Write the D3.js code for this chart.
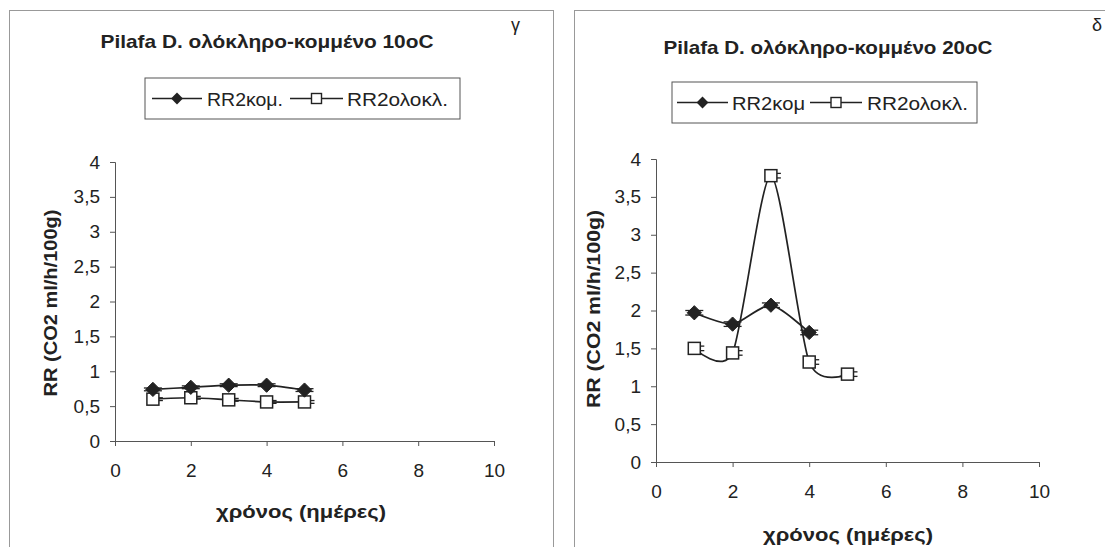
<!DOCTYPE html>
<html>
<head>
<meta charset="utf-8">
<script src="https://cdn.jsdelivr.net/npm/d3@7"></script>
<style>
  body { margin: 0; background: #fff; }
  text { font-family: "Liberation Sans", Arial, sans-serif; fill: #222; }
</style>
</head>
<body>
<div id="chart"></div>
<script>
// data
var days = [1, 2, 3, 4, 5];
var xTicks = [0, 2, 4, 6, 8, 10];
var yTicks = [0, 0.5, 1, 1.5, 2, 2.5, 3, 3.5, 4];

// 10oC panel
var kom10 = [0.74, 0.77, 0.80, 0.80, 0.73];
var olo10 = [0.60, 0.62, 0.59, 0.56, 0.56];
var err10 = [0.02, 0.02, 0.02, 0.02, 0.02];
// 20oC panel (κομ has no day 5)
var kom20 = [1.97, 1.82, 2.07, 1.71];
var olo20 = [1.50, 1.44, 3.78, 1.32, 1.16];
var err20 = [0.03, 0.03, 0.03, 0.03, 0.03];

var svgWidth = 1105;
var svgHeight = 547;

var svg = d3.select("#chart")
  .append("svg")
  .attr("width", svgWidth)
  .attr("height", svgHeight);

function drawPanel(p) {
  // panel frame
  svg.append("rect")
    .attr("x", p.box[0]).attr("y", p.box[1])
    .attr("width", p.box[2]).attr("height", p.box[3])
    .attr("fill", "none").attr("stroke", "#999").attr("stroke-width", 1);

  var x = d3.scaleLinear().domain([0, 10]).range([p.x0, p.x1]);
  var y = d3.scaleLinear().domain([0, 4]).range([p.y0, p.y1]);

  var g = svg.append("g");

  var xAxis = g.append("g")
    .attr("transform", `translate(0,${p.y0})`)
    .call(d3.axisBottom(x).tickValues(xTicks).tickSize(5).tickPadding(18).tickFormat(d3.format("d")));
  var yAxis = g.append("g")
    .attr("transform", `translate(${p.x0},0)`)
    .call(d3.axisLeft(y).tickValues(yTicks).tickSize(5).tickPadding(10)
      .tickFormat(d => String(d).replace(".", ",")));

  [xAxis, yAxis].forEach(function(a) {
    a.select(".domain").attr("stroke", "#555");
    a.selectAll(".tick line").attr("stroke", "#555");
    a.selectAll("text").attr("font-size", 19).attr("fill", "#222")
      .attr("font-family", "'Liberation Sans', Arial, sans-serif");
  });

  // titles
  svg.append("text")
    .attr("x", p.titleX).attr("y", p.titleY)
    .attr("text-anchor", "middle")
    .attr("font-size", 19).attr("font-weight", "bold")
    .attr("textLength", p.titleLen).attr("lengthAdjust", "spacingAndGlyphs")
    .text(p.title);
  svg.append("text")
    .attr("x", p.letterX).attr("y", 31)
    .attr("font-size", 18)
    .text(p.letter);
  svg.append("text")
    .attr("x", p.xTitleX).attr("y", p.xTitleY)
    .attr("text-anchor", "middle")
    .attr("font-size", 18).attr("font-weight", "bold")
    .attr("textLength", 170).attr("lengthAdjust", "spacingAndGlyphs")
    .text("χρόνος (ημέρες)");
  svg.append("text")
    .attr("transform", `translate(${p.yTitleX},${p.yTitleY}) rotate(-90)`)
    .attr("text-anchor", "middle")
    .attr("font-size", 18).attr("font-weight", "bold")
    .attr("textLength", p.yTitleLen).attr("lengthAdjust", "spacingAndGlyphs")
    .text("RR (CO2 ml/h/100g)");

  var line = d3.line()
    .x(d => x(d[0]))
    .y(d => y(d[1]))
    .curve(d3.curveCardinal.tension(0.25));

  var komPts = p.kom.map((v, i) => [days[i], v]);
  var oloPts = p.olo.map((v, i) => [days[i], v]);

  g.append("path").datum(oloPts)
    .attr("d", line).attr("fill", "none")
    .attr("stroke", "#222").attr("stroke-width", 1.7);
  g.append("path").datum(komPts)
    .attr("d", line).attr("fill", "none")
    .attr("stroke", "#222").attr("stroke-width", 1.7);

  // error bar caps
  oloPts.forEach(function(d, i) {
    var e = p.err[i];
    [d[1] - e, d[1] + e].forEach(function(v) {
      g.append("line")
        .attr("x1", x(d[0])).attr("x2", x(d[0]) + 10)
        .attr("y1", y(v)).attr("y2", y(v))
        .attr("stroke", "#222").attr("stroke-width", 1.3);
    });
  });
  komPts.forEach(function(d, i) {
    var e = p.err[i];
    [d[1] - e, d[1] + e].forEach(function(v) {
      g.append("line")
        .attr("x1", x(d[0]) - 9).attr("x2", x(d[0]) + 9)
        .attr("y1", y(v)).attr("y2", y(v))
        .attr("stroke", "#222").attr("stroke-width", 1.3);
    });
  });

  // markers
  g.selectAll(".sq").data(oloPts).enter().append("rect")
    .attr("x", d => x(d[0]) - 6).attr("y", d => y(d[1]) - 6)
    .attr("width", 12).attr("height", 12)
    .attr("fill", "#fff").attr("stroke", "#222").attr("stroke-width", 1.5);
  g.selectAll(".dm").data(komPts).enter().append("path")
    .attr("d", d3.symbol(d3.symbolDiamond2, 130))
    .attr("transform", d => `translate(${x(d[0])},${y(d[1])})`)
    .attr("fill", "#222").attr("stroke", "#222");

  // legend
  var L = p.leg;
  var lg = svg.append("g");
  lg.append("rect")
    .attr("x", L.box[0]).attr("y", L.box[1])
    .attr("width", L.box[2]).attr("height", L.box[3])
    .attr("fill", "#fff").attr("stroke", "#555");
  var ly = L.box[1] + L.box[3] / 2;
  lg.append("line").attr("x1", L.l1[0]).attr("x2", L.l1[1]).attr("y1", ly).attr("y2", ly)
    .attr("stroke", "#222").attr("stroke-width", 1.6);
  lg.append("path").attr("d", d3.symbol(d3.symbolDiamond2, 90))
    .attr("transform", `translate(${(L.l1[0] + L.l1[1]) / 2},${ly})`).attr("fill", "#222");
  lg.append("text").attr("x", L.t1[0]).attr("y", ly + 7)
    .attr("font-size", 19)
    .attr("textLength", L.t1[1]).attr("lengthAdjust", "spacingAndGlyphs")
    .text(p.komLabel);
  lg.append("line").attr("x1", L.l2[0]).attr("x2", L.l2[1]).attr("y1", ly).attr("y2", ly)
    .attr("stroke", "#222").attr("stroke-width", 1.6);
  lg.append("rect").attr("x", (L.l2[0] + L.l2[1]) / 2 - 5).attr("y", ly - 5).attr("width", 10).attr("height", 10)
    .attr("fill", "#fff").attr("stroke", "#222").attr("stroke-width", 1.4);
  lg.append("text").attr("x", L.t2[0]).attr("y", ly + 7)
    .attr("font-size", 19)
    .attr("textLength", L.t2[1]).attr("lengthAdjust", "spacingAndGlyphs")
    .text("RR2ολοκλ.");
}

drawPanel({
  box: [9.5, 10.5, 544, 545],
  x0: 115, x1: 494, y0: 441, y1: 162,
  title: "Pilafa D. ολόκληρο-κομμένο 10oC", titleX: 267, titleY: 48, titleLen: 333,
  letter: "γ", letterX: 511,
  xTitleX: 301, xTitleY: 518, yTitleX: 57, yTitleY: 303, yTitleLen: 187,
  kom: kom10, olo: olo10, err: err10,
  leg: { box: [145, 78, 315, 41], l1: [152, 202], t1: [207, 76], l2: [290, 343], t2: [347, 101] },
  komLabel: "RR2κομ."
});

drawPanel({
  box: [574.5, 10.5, 545, 545],
  x0: 656, x1: 1039, y0: 462, y1: 159,
  title: "Pilafa D. ολόκληρο-κομμένο 20oC", titleX: 828, titleY: 54, titleLen: 329,
  letter: "δ", letterX: 1092,
  xTitleX: 848, xTitleY: 541, yTitleX: 600, yTitleY: 309, yTitleLen: 198,
  kom: kom20, olo: olo20, err: err20,
  leg: { box: [672, 82, 305, 41], l1: [677, 728], t1: [732, 73], l2: [810, 862], t2: [867, 101] },
  komLabel: "RR2κομ"
});
</script>
</body>
</html>
